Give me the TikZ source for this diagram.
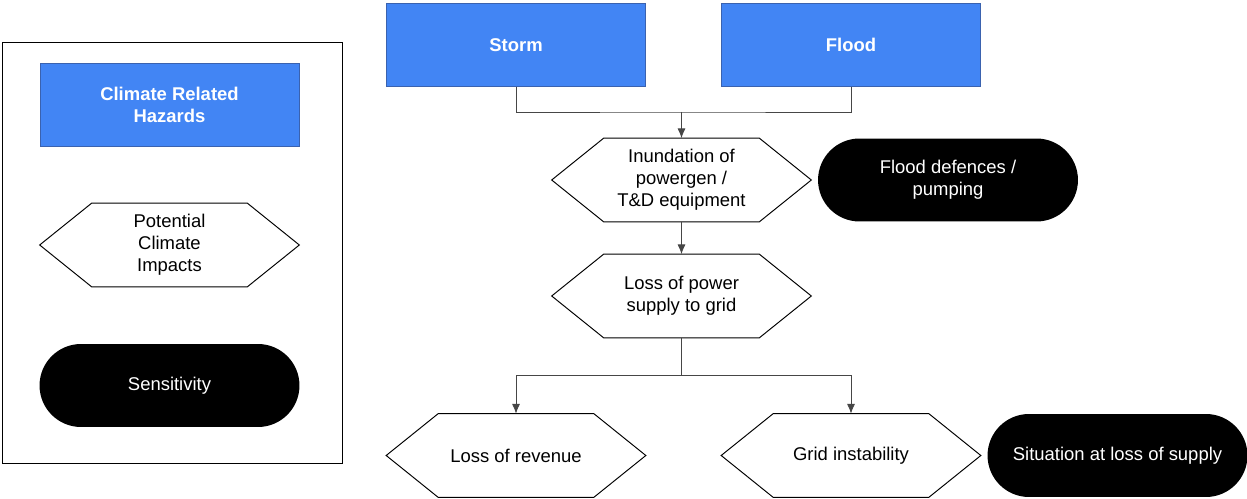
\documentclass[tikz,border=0pt]{standalone}
\usepackage{fontspec}
\setmainfont{Liberation Sans}
\usetikzlibrary{calc,shapes.misc,arrows.meta}
\definecolor{hazblue}{RGB}{66,133,244}
\definecolor{hazedge}{RGB}{58,98,175}
\definecolor{linegray}{RGB}{70,70,70}

\begin{document}
\begin{tikzpicture}[x=0.02cm,y=-0.02cm,
  box/.style={font=\fontsize{10.5}{12.5}\selectfont,align=center,minimum width=5.18cm,minimum height=1.66cm,inner sep=2pt},
  hazard/.style={box,rectangle,fill=hazblue,draw=hazedge,line width=0.5pt,text=white,font=\fontsize{10.5}{12.5}\selectfont\bfseries},
  impact/.style={box,rectangle},
  sensit/.style={box,rounded rectangle,fill=black,text=white,minimum width=5.34cm},
  link/.style={linegray,line width=0.45pt},
  tip/.style={-{Latex[length=5.5pt,width=4.5pt]}}]
  \useasboundingbox (0,0) rectangle (1247,499);

  \draw[line width=0.5pt] (2,42) rectangle (342,463);
  \node[hazard] (leghaz) at (169.5,105) {Climate Related\\Hazards};
  \node[impact] (legimp) at (169.5,245) {Potential\\Climate\\Impacts};
  \node[sensit] (legsens) at (169.5,385.5) {Sensitivity};

  \node[hazard] (storm) at (516,45) {Storm};
  \node[hazard] (flood) at (851,45) {Flood};
  \node[impact] (inund) at (681.5,180) {Inundation of\\powergen /\\T\&D equipment};
  \node[sensit] (defence) at (948,180) {Flood defences /\\pumping};
  \node[impact] (losspow) at (681.5,296) {Loss of power\\supply to grid};
  \node[impact] (revenue) at (516,455.5) {Loss of revenue};
  \node[impact] (gridinst) at (851,455.5) {Grid instability};
  \node[sensit] (situation) at (1117.5,455.5) {Situation at loss of supply};

  \foreach \n in {legimp,inund,losspow,revenue,gridinst}
    \draw[line width=0.55pt] (\n.west) -- ($ (\n.north west) + (52,0) $) -- ($ (\n.north east) + (-52,0) $)
      -- (\n.east) -- ($ (\n.south east) + (-52,0) $) -- ($ (\n.south west) + (52,0) $) -- cycle;

  \coordinate (join) at (681.5,112);
  \coordinate (split) at (681.5,375);
  \draw[link] (storm.south) |- (join) -| (flood.south);
  \draw[link,tip] (join) -- (inund.north);
  \draw[link,tip] (inund.south) -- (losspow.north);
  \draw[link] (losspow.south) -- (split);
  \draw[link,tip] (split) -| (revenue.north);
  \draw[link,tip] (split) -| (gridinst.north);
\end{tikzpicture}
\end{document}
